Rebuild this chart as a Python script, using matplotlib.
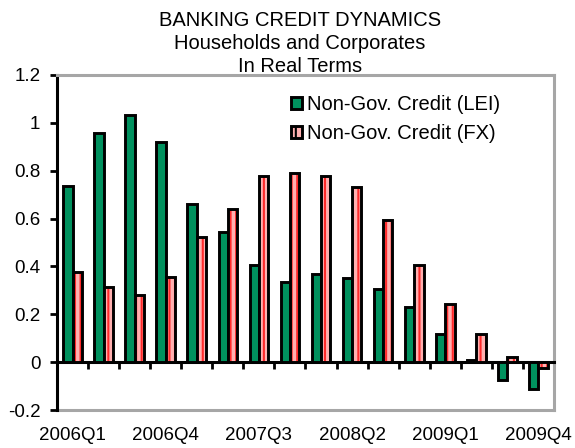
import matplotlib
matplotlib.use("Agg")
import matplotlib.pyplot as plt
import numpy as np
from matplotlib.ticker import FuncFormatter, FixedLocator
from matplotlib.patches import Patch

plt.rcParams['font.family'] = ['Liberation Sans', 'DejaVu Sans']
plt.rcParams['hatch.linewidth'] = 1.5

quarters = ["2006Q1", "2006Q2", "2006Q3", "2006Q4",
            "2007Q1", "2007Q2", "2007Q3", "2007Q4",
            "2008Q1", "2008Q2", "2008Q3", "2008Q4",
            "2009Q1", "2009Q2", "2009Q3", "2009Q4"]
lei = [0.735, 0.958, 1.031, 0.919, 0.660, 0.543, 0.407, 0.336,
       0.368, 0.352, 0.306, 0.229, 0.117, 0.008, -0.075, -0.114]
fx = [0.375, 0.312, 0.282, 0.357, 0.524, 0.642, 0.777, 0.791,
      0.777, 0.730, 0.596, 0.408, 0.242, 0.116, 0.022, -0.024]
label_lei = "Non-Gov. Credit (LEI)"
label_fx = "Non-Gov. Credit (FX)"
title_lines = ["BANKING CREDIT DYNAMICS", "Households and Corporates", "In Real Terms"]
shown_labels = ["2006Q1", "2006Q4", "2007Q3", "2008Q2", "2009Q1", "2009Q4"]

green = "#00915E"
pink = "#ffb0b0"
red = "#ff2a2a"
gray = "#a6a6a6"
lw = 2.1

fig = plt.figure(figsize=(5.75, 4.48), dpi=100)
ax = fig.add_axes([57/575, 38/448, 497/575, 335/448])

x = np.arange(len(quarters))
w = 0.3
ax.bar(x - w/2, lei, width=w, color=green, edgecolor="black", linewidth=lw,
       zorder=3)
ax.bar(x + w/2, fx, width=w, color=pink, edgecolor=red, linewidth=0,
       hatch="|||", zorder=3)
ax.bar(x + w/2, fx, width=w, facecolor="none", edgecolor="black", linewidth=lw, zorder=4)

h1 = Patch(facecolor=green, edgecolor="black", linewidth=lw)
h2 = Patch(facecolor=pink, edgecolor="black", linewidth=lw, hatch="||")
leg = ax.legend([h1, h2], [label_lei, label_fx], loc="upper left",
                bbox_to_anchor=(0.455, 0.965), frameon=False, fontsize=14.5,
                handlelength=0.55, handleheight=0.55, handletextpad=0.25,
                labelspacing=0.5, borderaxespad=0)

ax.set_xlim(-0.5, len(quarters) - 0.5)
ax.set_ylim(-0.2, 1.2)
ax.set_yticks(np.arange(-0.2, 1.21, 0.2))
ax.yaxis.set_major_formatter(FuncFormatter(lambda v, p: "%g" % round(v, 1)))
ax.tick_params(axis="y", direction="out", length=5, width=2, pad=7,
               labelsize=13.5, color="black")

ax.spines["bottom"].set_position(("data", 0))
ax.spines["bottom"].set_linewidth(2.2)
ax.spines["bottom"].set_color("black")
ax.set_xticks([])
ax.xaxis.set_minor_locator(FixedLocator(np.arange(0.5, len(quarters), 1.0)))
ax.tick_params(axis="x", which="minor", direction="out", length=5, width=2,
               color="black")
ax.spines["left"].set_linewidth(2.2)
ax.spines["left"].set_color("black")
for s in ["top", "right"]:
    ax.spines[s].set_color(gray)
    ax.spines[s].set_linewidth(2.2)

sec = ax.secondary_xaxis("bottom")
sec.set_xticks([quarters.index(q) for q in shown_labels])
sec.set_xticklabels(shown_labels)
sec.tick_params(length=0, pad=12, labelsize=13.5)
sec.spines["bottom"].set_color(gray)
sec.spines["bottom"].set_linewidth(2.2)

fig.text(300/575, 1 - 11/448, "\n".join(title_lines), ha="center", va="top",
         fontsize=14.5, linespacing=1.25)

fig.savefig("out.png", dpi=100)
